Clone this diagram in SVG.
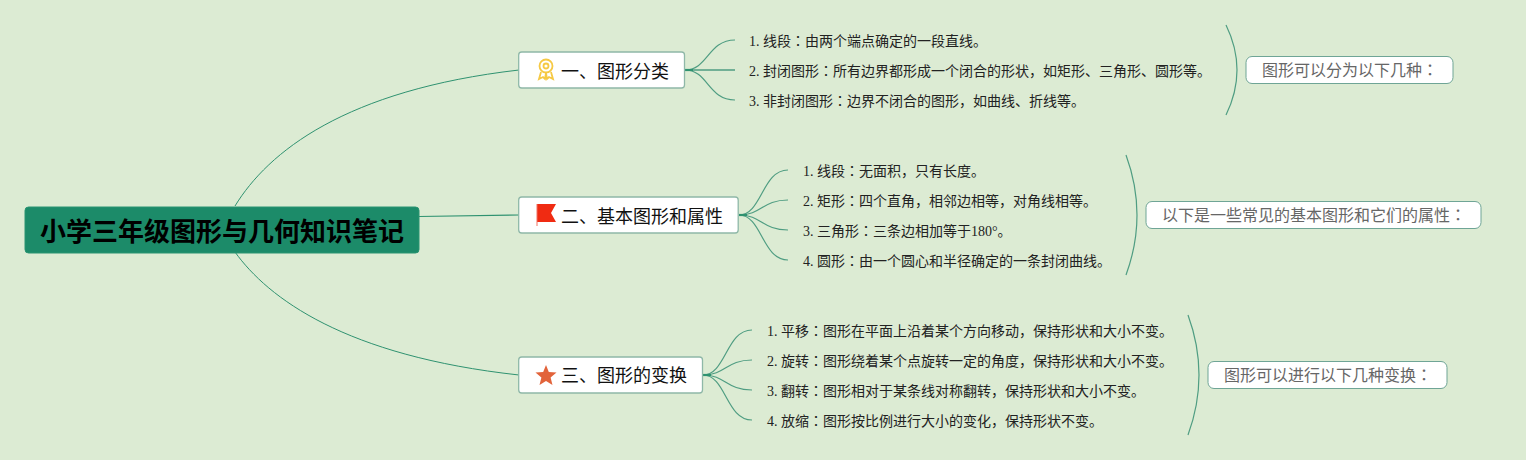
<svg xmlns="http://www.w3.org/2000/svg" width="1526" height="460" viewBox="0 0 1526 460">
<style>
text{font-family:"Liberation Serif","Noto Sans CJK SC",serif;}
.col{font-family:"Noto Sans CJK TC",sans-serif;}
.root rect{fill:#1c8b69;stroke:#2a9472;stroke-width:1}
.root text{font-family:"Liberation Sans","Noto Sans CJK SC",sans-serif;font-size:26px;font-weight:700;fill:#000}
.main rect{fill:#fff;stroke:#8fb8a8;stroke-width:1.3}
.main text{font-size:18px;fill:#111}
.leaf text{font-size:14px;fill:#222}
.note rect{fill:#fff;stroke:#6fa596;stroke-width:1}
.note text{font-size:16px;fill:#666}
.c path{fill:none;stroke:#2f9270;stroke-width:1}
.c path.k{stroke:#4f9d82;stroke-width:1.2}
.c path.j{stroke:#2f9270;stroke-width:2.200}
</style>
<rect width="1526" height="460" fill="#dcebd3"/>
<g class="c" id="connectors">
<path d="M235 206C268 152 345 90 519 70"/>
<path d="M419 216.500L519 215" style="stroke-width:1.2"/>
<path d="M235 252C268 298 345 356 519 375"/>
<path class="k" d="M685 70C708 70 708 40 735 40"/>
<path class="k" d="M685 70H735" style="stroke-width:1.6"/>
<path class="k" d="M685 70C708 70 708 100 735 100"/>
<path class="j" d="M685 70H693"/>
<path class="k" d="M739 215C762 215 762 170 788 170"/>
<path class="k" d="M739 215C762 215 762 200 788 200"/>
<path class="k" d="M739 215C762 215 762 230 788 230"/>
<path class="k" d="M739 215C762 215 762 260 788 260"/>
<path class="j" d="M739 215H747"/>
<path class="k" d="M703 375C726 375 726 330 752 330"/>
<path class="k" d="M703 375C726 375 726 360 752 360"/>
<path class="k" d="M703 375C726 375 726 390 752 390"/>
<path class="k" d="M703 375C726 375 726 420 752 420"/>
<path class="j" d="M703 375H711"/>
<path class="k" d="M1226 25Q1248 70 1226 115"/>
<path class="k" d="M1126 155Q1148 215 1126 275"/>
<path class="k" d="M1188 315Q1210 375 1188 435"/>
</g>
<g class="root" id="root"><rect x="25" y="207" width="394" height="46" rx="3.500"/><text x="222" y="241" text-anchor="middle">小学三年级图形与几何知识笔记</text></g>
<g class="main" id="n1"><rect x="518.700" y="52" width="165.800" height="36" rx="3"/>
<g fill="none" stroke="#f6c944" stroke-width="1.8"><circle cx="546" cy="66" r="6.500"/><circle cx="546" cy="66" r="2.500"/><path d="M541 72L539 79L543 77L545 79L546 73L547 79L549 77L553 79L551 72"/></g>
<text x="561" y="78">一、图形分类</text></g>
<g class="main" id="n2"><rect x="518.700" y="197" width="219.500" height="36" rx="3"/>
<path d="M537 204H556L551 213L556 222H537Z" fill="#f02b12"/><path d="M537 204V226" stroke="#f07060" stroke-width="1"/>
<text x="561" y="223">二、基本图形和属性</text></g>
<g class="main" id="n3"><rect x="518.700" y="357" width="183.800" height="36" rx="3"/>
<path d="M546 365L548.800 372.100L556.500 372.600L550.600 377.500L552.500 385L546 380.900L539.500 385L541.400 377.500L535.500 372.600L543.200 372.100Z" fill="#e2633a"/>
<text x="561" y="382">三、图形的变换</text></g>
<g class="leaf" id="l11"><text x="749" y="46">1. 线段<tspan class="col">：</tspan>由两个端点确定的一段直线。</text></g>
<g class="leaf" id="l12"><text x="749" y="76">2. 封闭图形<tspan class="col">：</tspan>所有边界都形成一个闭合的形状，如矩形、三角形、圆形等。</text></g>
<g class="leaf" id="l13"><text x="749" y="106">3. 非封闭图形<tspan class="col">：</tspan>边界不闭合的图形，如曲线、折线等。</text></g>
<g class="leaf" id="l21"><text x="803" y="176">1. 线段<tspan class="col">：</tspan>无面积，只有长度。</text></g>
<g class="leaf" id="l22"><text x="803" y="206">2. 矩形<tspan class="col">：</tspan>四个直角，相邻边相等，对角线相等。</text></g>
<g class="leaf" id="l23"><text x="803" y="236">3. 三角形<tspan class="col">：</tspan>三条边相加等于180°。</text></g>
<g class="leaf" id="l24"><text x="803" y="266">4. 圆形<tspan class="col">：</tspan>由一个圆心和半径确定的一条封闭曲线。</text></g>
<g class="leaf" id="l31"><text x="767" y="336">1. 平移<tspan class="col">：</tspan>图形在平面上沿着某个方向移动，保持形状和大小不变。</text></g>
<g class="leaf" id="l32"><text x="767" y="366">2. 旋转<tspan class="col">：</tspan>图形绕着某个点旋转一定的角度，保持形状和大小不变。</text></g>
<g class="leaf" id="l33"><text x="767" y="396">3. 翻转<tspan class="col">：</tspan>图形相对于某条线对称翻转，保持形状和大小不变。</text></g>
<g class="leaf" id="l34"><text x="767" y="426">4. 放缩<tspan class="col">：</tspan>图形按比例进行大小的变化，保持形状不变。</text></g>
<g class="note" id="s1"><rect x="1246" y="56.500" width="207" height="27" rx="6"/><text x="1262" y="76">图形可以分为以下几种<tspan class="col">：</tspan></text></g>
<g class="note" id="s2"><rect x="1146" y="201.500" width="335" height="27" rx="6"/><text x="1162" y="221">以下是一些常见的基本图形和它们的属性<tspan class="col">：</tspan></text></g>
<g class="note" id="s3"><rect x="1208" y="361.500" width="239" height="27" rx="6"/><text x="1224" y="381">图形可以进行以下几种变换<tspan class="col">：</tspan></text></g>
</svg>
